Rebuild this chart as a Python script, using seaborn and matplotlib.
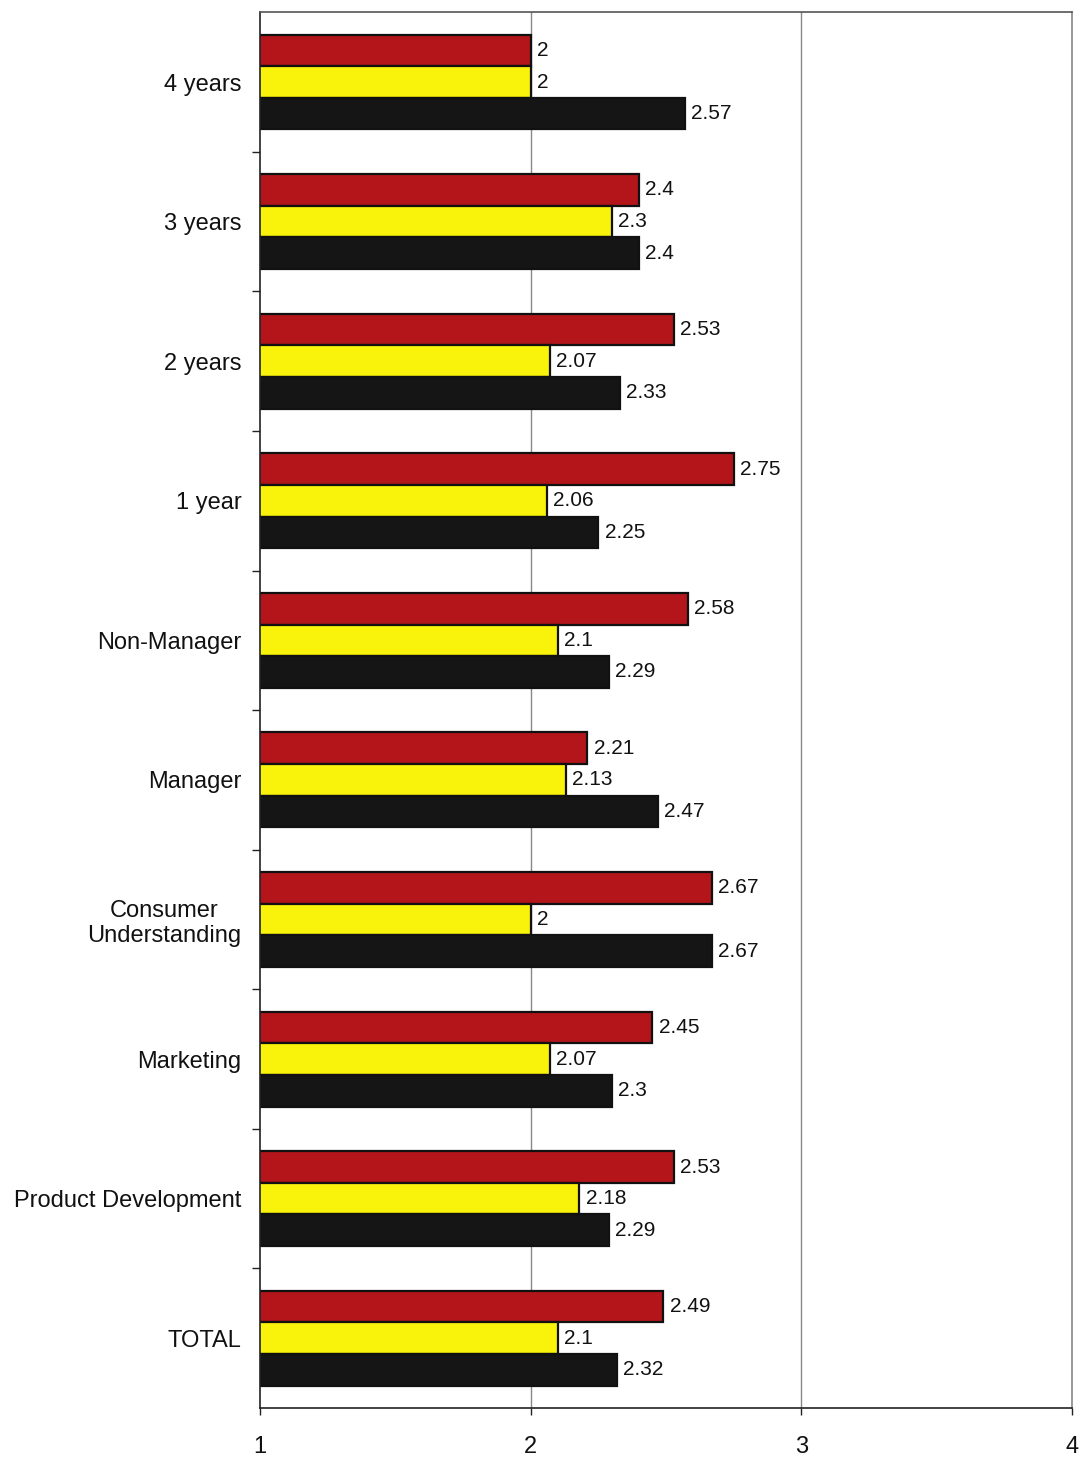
import matplotlib
matplotlib.use("Agg")
import matplotlib.pyplot as plt
import seaborn as sns
import pandas as pd
import numpy as np
from matplotlib.ticker import FixedLocator

categories = ["4 years", "3 years", "2 years", "1 year", "Non-Manager", "Manager",
              "Consumer\nUnderstanding", "Marketing", "Product Development", "TOTAL"]
series_names = ["Series A", "Series B", "Series C"]
red_values = [2.0, 2.4, 2.53, 2.75, 2.58, 2.21, 2.67, 2.45, 2.53, 2.49]
yellow_values = [2.0, 2.3, 2.07, 2.06, 2.1, 2.13, 2.0, 2.07, 2.18, 2.1]
black_values = [2.57, 2.4, 2.33, 2.25, 2.29, 2.47, 2.67, 2.3, 2.29, 2.32]
x_ticks = [1, 2, 3, 4]

rows = []
for name, vals in zip(series_names, [red_values, yellow_values, black_values]):
    for cat, v in zip(categories, vals):
        rows.append({"category": cat, "series": name, "value": v})
df = pd.DataFrame(rows)

sns.set_theme(style="white")
plt.rcParams["font.family"] = ["Liberation Sans", "DejaVu Sans"]

fig = plt.figure(figsize=(10.82, 14.57), dpi=100)
ax = fig.add_axes([0.240, 0.0336, 0.751, 0.958])

palette = {"Series A": "#B3151A", "Series B": "#F9F20A", "Series C": "#151515"}
sns.barplot(data=df, y="category", x="value", hue="series", order=categories,
            hue_order=series_names, palette=palette, orient="h", width=0.68,
            saturation=1, edgecolor="#111111", linewidth=1.6, ax=ax, legend=False)

for container in ax.containers:
    labels = [f"{v:g}" for v in container.datavalues]
    ax.bar_label(container, labels=labels, padding=4.5, fontsize=15, color="#111111")

ax.set_xlim(1, 4)
ax.set_ylim(len(categories) - 0.5, -0.5)
ax.set_xticks(x_ticks)
ax.set_xticklabels([str(t) for t in x_ticks], fontsize=17)
ax.set_xlabel("")
ax.set_ylabel("")
ax.tick_params(axis="y", which="major", length=0, labelsize=17, pad=13, labelcolor="#111111")
for lbl in ax.get_yticklabels():
    lbl.set_multialignment("center")
ax.yaxis.set_minor_locator(FixedLocator(np.arange(0.5, len(categories) - 0.5, 1)))
ax.tick_params(axis="y", which="minor", length=6, width=1, color="#222222", direction="out", left=True)
ax.tick_params(axis="x", which="major", length=5, width=1, color="#222222", direction="out",
               bottom=True, pad=15, labelcolor="#111111")

ax.grid(False)
for xv in [2, 3]:
    ax.axvline(xv, color="#888888", linewidth=1, zorder=0)

for side, sp in ax.spines.items():
    sp.set_visible(True)
    sp.set_color("#222222")
    sp.set_linewidth(1.2)
ax.spines["right"].set_color("#888888")
ax.spines["top"].set_color("#555555")

fig.savefig("out.png", dpi=100)
